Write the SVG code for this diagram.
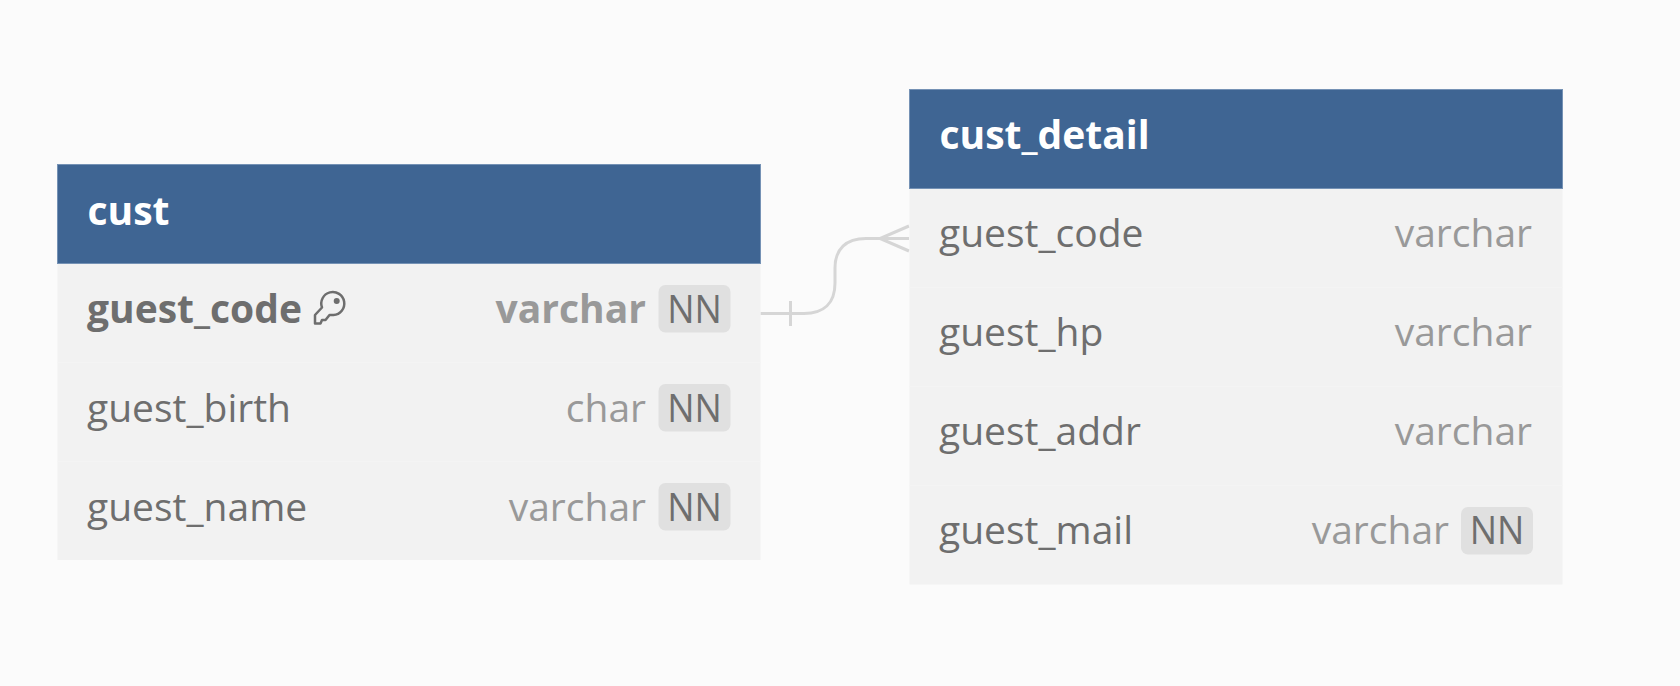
<svg xmlns="http://www.w3.org/2000/svg" width="1680" height="686" viewBox="0 0 1680 686">
<style>
text{font-family:"Open Sans","Noto Sans","DejaVu Sans",sans-serif;font-size:39px}
.hd{fill:#3f6593;stroke:#7592b5;stroke-width:1}
.row{fill:#f2f2f2}
.div{stroke:#f4f4f4;stroke-width:1}
.title{fill:#fff;font-weight:700}
.name{fill:#6e6e6e}
.type{fill:#999;text-anchor:end}
.nnb{fill:#e0e0e0}
.nn{fill:#6e6e6e;text-anchor:middle}
.b{font-weight:700}
.conn{fill:none;stroke:#d6d6d6;stroke-width:3}
</style>
<rect width="1680" height="686" fill="#fbfbfb"/>
<g id="connectors">
<path class="conn" d="M760.500 313.500H804C824 313.500 835 303 835 283V268C835 249 846 238.500 866 238.500H909"/>
<path class="conn" d="M790.500 301V326"/>
<path class="conn" d="M909 226L880 238.500L909 251M880 238.500H909"/>
</g>
<g id="cust">
<rect class="row" x="57.500" y="263.500" width="703" height="296.500"/>
<rect class="hd" x="57.500" y="164.500" width="703" height="99"/>
<path class="div" d="M57.500 362.500H760.500M57.500 461.500H760.500"/>
<text class="title" x="87.500" y="225">cust</text>
<text class="name b" x="87" y="323">guest_code</text>
<path d="M322 307.500A11.500 11.500 0 1 1 333.500 315H329.500L325.500 320H322L320.500 323.500H315V315Z" fill="none" stroke="#6e6e6e" stroke-width="2.500" stroke-linejoin="round"/>
<circle cx="336.700" cy="301" r="3" fill="#6e6e6e"/>
<text class="type b" x="646" y="323">varchar</text>
<rect class="nnb" x="658.500" y="285" width="72" height="47.500" rx="7"/>
<text class="nn" x="694.500" y="323" textLength="54.600" lengthAdjust="spacingAndGlyphs">NN</text>
<text class="name" x="87" y="422">guest_birth</text>
<text class="type" x="646" y="422">char</text>
<rect class="nnb" x="658.500" y="384" width="72" height="47.500" rx="7"/>
<text class="nn" x="694.500" y="422" textLength="54.600" lengthAdjust="spacingAndGlyphs">NN</text>
<text class="name" x="87" y="521">guest_name</text>
<text class="type" x="646" y="521">varchar</text>
<rect class="nnb" x="658.500" y="483" width="72" height="47.500" rx="7"/>
<text class="nn" x="694.500" y="521" textLength="54.600" lengthAdjust="spacingAndGlyphs">NN</text>
</g>
<g id="cust_detail">
<rect class="row" x="909.500" y="188.500" width="653" height="396"/>
<rect class="hd" x="909.500" y="89.500" width="653" height="99"/>
<path class="div" d="M909.500 287.500H1562.500M909.500 386.500H1562.500M909.500 485.500H1562.500"/>
<text class="title" x="939.500" y="149">cust_detail</text>
<text class="name" x="939" y="247">guest_code</text>
<text class="type" x="1532" y="247">varchar</text>
<text class="name" x="939" y="346">guest_hp</text>
<text class="type" x="1532" y="346">varchar</text>
<text class="name" x="939" y="445">guest_addr</text>
<text class="type" x="1532" y="445">varchar</text>
<text class="name" x="939" y="544">guest_mail</text>
<text class="type" x="1449" y="544">varchar</text>
<rect class="nnb" x="1461" y="507" width="72" height="47.500" rx="7"/>
<text class="nn" x="1497" y="544" textLength="54.600" lengthAdjust="spacingAndGlyphs">NN</text>
</g>
</svg>
